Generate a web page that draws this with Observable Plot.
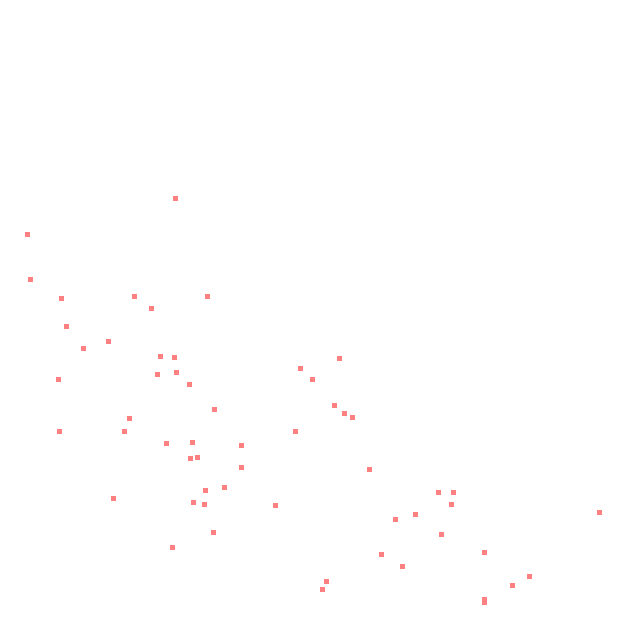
<!DOCTYPE html>
<html>
<head>
<meta charset="utf-8">
<script src="https://cdn.jsdelivr.net/npm/d3@7"></script>
<script src="https://cdn.jsdelivr.net/npm/@observablehq/plot@0.6"></script>
<style>
  html, body { margin: 0; padding: 0; background: #fff; }
  #chart svg { display: block; }
</style>
</head>
<body>
<div id="chart"></div>
<script>
const xs = [175, 27, 30, 61, 134, 207, 151, 66, 108, 83, 160, 174, 339, 300, 157, 176, 58, 312, 189,
  334, 214, 344, 352, 129, 59, 124, 295, 166, 192, 241, 190, 197, 241, 369, 224, 205, 438, 453, 113,
  193, 204, 275, 451, 599, 415, 395, 213, 441, 172, 484, 381, 402, 529, 326, 512, 322, 484, 484];
const ys = [198, 234, 279, 298, 296, 296, 308, 326, 341, 348, 356, 357, 358, 368, 374, 372, 379, 379, 384,
  405, 409, 413, 417, 418, 431, 431, 431, 443, 442, 445, 458, 457, 467, 469, 487, 490, 492, 492, 498,
  502, 504, 505, 504, 512, 514, 519, 532, 534, 547, 552, 554, 566, 576, 581, 585, 589, 599, 602];

const data = xs.map((x, i) => ({x, y: ys[i]}));

const chart = Plot.plot({
  width: 640,
  height: 640,
  margin: 0,
  x: {domain: [0, 640], axis: null},
  y: {domain: [0, 640], range: [0, 640], axis: null},
  marks: [
    Plot.dot(data, {x: "x", y: "y", symbol: "square", r: 5 / Math.sqrt(Math.PI), fill: "#ff8080", stroke: "none"})
  ]
});
document.getElementById("chart").appendChild(chart);
</script>
</body>
</html>
